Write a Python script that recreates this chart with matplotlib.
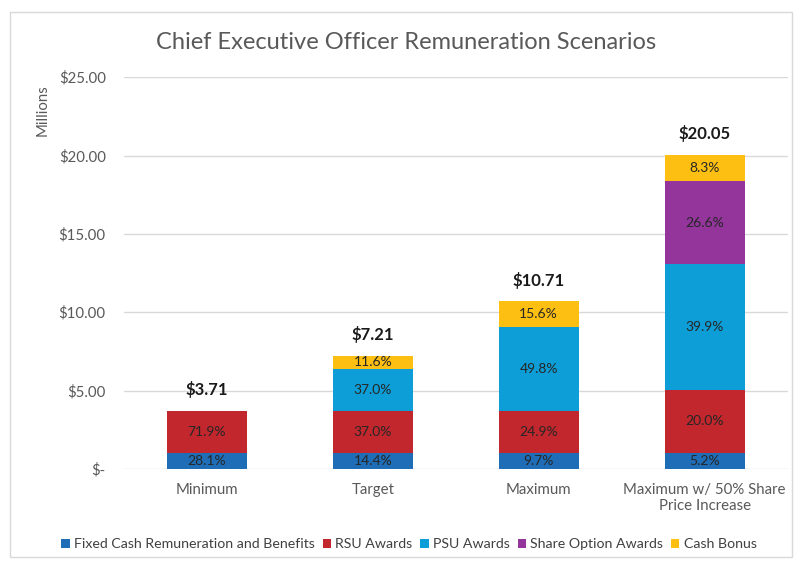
import matplotlib.pyplot as plt
import matplotlib.patches as patches
import numpy as np

plt.rcParams['font.family'] = ['Lato', 'DejaVu Sans']

# data (millions)
scenarios = ['Minimum', 'Target', 'Maximum', 'Maximum w/ 50% Share\nPrice Increase']
totals = [3.71, 7.21, 10.71, 20.05]
fixed_cash = [1.04, 1.04, 1.04, 1.04]
rsu = [2.67, 2.67, 2.67, 4.01]
psu = [0.0, 2.67, 5.33, 8.00]
options = [0.0, 0.0, 0.0, 5.33]
cash_bonus = [0.0, 0.84, 1.67, 1.66]

fixed_pct = ['28.1%', '14.4%', '9.7%', '5.2%']
rsu_pct = ['71.9%', '37.0%', '24.9%', '20.0%']
psu_pct = ['', '37.0%', '49.8%', '39.9%']
options_pct = ['', '', '', '26.6%']
cash_pct = ['', '11.6%', '15.6%', '8.3%']

series = [
    ('Fixed Cash Remuneration and Benefits', fixed_cash, fixed_pct, '#1F6DB6'),
    ('RSU Awards', rsu, rsu_pct, '#C1272D'),
    ('PSU Awards', psu, psu_pct, '#0E9ED7'),
    ('Share Option Awards', options, options_pct, '#93359B'),
    ('Cash Bonus', cash_bonus, cash_pct, '#FDC012'),
]

fig = plt.figure(figsize=(7.94, 5.63), dpi=100)
ax = fig.add_axes([0.156, 0.167, 0.836, 0.696])

# chart border
fig.patches.append(patches.Rectangle((0.013, 0.01), 0.985, 0.968, transform=fig.transFigure,
                                     fill=False, edgecolor='#D9D9D9', linewidth=1))

x = np.arange(len(scenarios))
bottom = np.zeros(len(scenarios))
for name, vals, labels, color in series:
    vals = np.array(vals)
    ax.bar(x, vals, 0.48, bottom=bottom, color=color, label=name, zorder=3)
    for i, (v, lab) in enumerate(zip(vals, labels)):
        if lab:
            ax.text(x[i], bottom[i] + v / 2, lab, ha='center', va='center',
                    fontsize=10, color='#262626', zorder=4)
    bottom += vals

for i, t in enumerate(totals):
    ax.text(x[i], t + 0.8, '$%.2f' % t, ha='center', va='bottom',
            fontsize=12, fontweight='bold', color='#1a1a1a')

ax.set_xlim(-0.5, len(scenarios) - 0.5)
ax.set_ylim(0, 25)
yt = [0, 5, 10, 15, 20, 25]
ax.set_yticks(yt)
ax.set_yticklabels(['$-'] + ['$%.2f' % v for v in yt[1:]])
ax.set_xticks(x)
ax.set_xticklabels(scenarios)
ax.tick_params(length=0, colors='#595959', labelsize=10.8)
ax.tick_params(axis='y', pad=13)
ax.tick_params(axis='x', pad=10)
ax.grid(axis='y', color='#D9D9D9', linewidth=1, zorder=0)
for s in ax.spines.values():
    s.set_visible(False)

ax.text(-0.122, 0.915, 'Millions', transform=ax.transAxes, rotation=90,
        ha='center', va='center', fontsize=10.8, color='#595959')

fig.text(0.512, 0.925, 'Chief Executive Officer Remuneration Scenarios',
         ha='center', va='center', fontsize=17, color='#595959')

fig.legend(loc='center', bbox_to_anchor=(0.515, 0.033), ncol=5, frameon=False,
           fontsize=10.2, handlelength=0.6, handleheight=0.6, handletextpad=0.3,
           columnspacing=0.55, labelcolor='#404040')

fig.savefig('out.png', dpi=100)
